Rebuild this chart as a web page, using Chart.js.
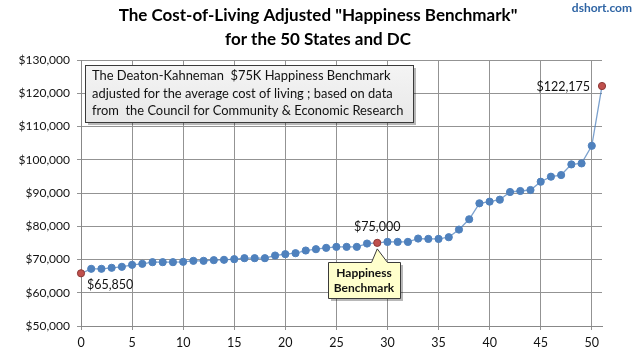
<!DOCTYPE html>
<html><head><meta charset="utf-8">
<script src="https://cdn.jsdelivr.net/npm/chart.js@4"></script>
<style>html,body{margin:0;padding:0;background:#fff}#wrap{width:636px;height:358px;position:relative}</style>
</head><body><div id="wrap"><canvas id="c" width="636" height="358"></canvas></div>
<script>
const titleLines = ['The Cost-of-Living Adjusted "Happiness Benchmark"', 'for the 50 States and DC'];
const sourceText = 'dshort.com';
const noteLines = [
  'The Deaton-Kahneman  $75K Happiness Benchmark',
  'adjusted for the average cost of living ; based on data',
  'from  the Council for Community & Economic Research'
];
const calloutLines = ['Happiness', 'Benchmark'];
const benchmarkValues = [
  65850, 67200, 67200, 67500, 67800, 68400, 68700, 69200, 69200, 69200,
  69300, 69600, 69600, 69800, 69900, 70100, 70400, 70400, 70400, 71200,
  71600, 71900, 72700, 73100, 73500, 73800, 73800, 73800, 74800, 75000,
  75300, 75300, 75300, 76300, 76200, 76200, 76700, 79000, 82100, 86900,
  87400, 88000, 90300, 90600, 90900, 93400, 94900, 95400, 98600, 98900,
  104200, 122175
];
const highlightIdx = [0, 29, 51];
const pointLabels = { 0: '$65,850', 29: '$75,000', 51: '$122,175' };
const xAxis = { min: 0, max: 51, step: 5 };
const yAxis = { min: 50000, max: 130000, step: 10000 };

const FONT = 'Lato, "Liberation Sans", sans-serif';
const BLUE = '#4f81bd', RED = '#c0504d', RED_EDGE = '#8c3836';
const pts = benchmarkValues.map((v, i) => ({ x: i, y: v }));
const fill = benchmarkValues.map((v, i) => highlightIdx.includes(i) ? RED : BLUE);
const edge = benchmarkValues.map((v, i) => highlightIdx.includes(i) ? RED_EDGE : BLUE);

function shadowBox(ctx, x, y, w, h, fillStyle) {
  ctx.save();
  ctx.fillStyle = 'rgba(0,0,0,0.28)';
  ctx.fillRect(x + 3, y + 3, w, h);
  ctx.fillStyle = fillStyle;
  ctx.fillRect(x, y, w, h);
  ctx.strokeStyle = '#3a3a3a';
  ctx.lineWidth = 1;
  ctx.strokeRect(x + 0.5, y + 0.5, w, h);
  ctx.restore();
}

const decor = {
  id: 'decor',
  afterDraw(chart) {
    const ctx = chart.ctx;
    ctx.save();
    // title
    ctx.fillStyle = '#000';
    ctx.textAlign = 'center';
    ctx.textBaseline = 'middle';
    ctx.font = 'bold 17px ' + FONT;
    ctx.fillText(titleLines[0], 318, 16);
    ctx.fillText(titleLines[1], 318, 40);
    // source
    ctx.fillStyle = '#2e64a4';
    ctx.font = 'bold 12px ' + FONT;
    ctx.textAlign = 'right';
    ctx.fillText(sourceText, 632, 8);

    // note box
    const g = ctx.createLinearGradient(0, 65, 0, 122);
    g.addColorStop(0, '#f4f4f4');
    g.addColorStop(1, '#e8e8e8');
    shadowBox(ctx, 85, 65, 328, 57, g);
    ctx.fillStyle = '#111';
    ctx.font = '12.9px ' + FONT;
    ctx.textAlign = 'left';
    noteLines.forEach((t, i) => ctx.fillText(t, 92, 76 + i * 17.5));

    // callout
    const meta = chart.getDatasetMeta(0);
    const bp = meta.data[29];
    const bx = 328, by = 262, bw = 72, bh = 36;
    ctx.save();
    ctx.fillStyle = 'rgba(0,0,0,0.28)';
    ctx.fillRect(bx + 3, by + 3, bw, bh);
    ctx.beginPath();
    ctx.moveTo(bx + 0.5, by + 0.5);
    ctx.lineTo(371.5, by + 0.5);
    ctx.lineTo(bp.x, bp.y + 6);
    ctx.lineTo(387.5, by + 0.5);
    ctx.lineTo(bx + bw + 0.5, by + 0.5);
    ctx.lineTo(bx + bw + 0.5, by + bh + 0.5);
    ctx.lineTo(bx + 0.5, by + bh + 0.5);
    ctx.closePath();
    ctx.fillStyle = '#ffffcc';
    ctx.fill();
    ctx.strokeStyle = '#3a3a3a';
    ctx.lineWidth = 1;
    ctx.stroke();
    ctx.restore();
    ctx.fillStyle = '#111';
    ctx.font = 'bold 12px ' + FONT;
    ctx.textAlign = 'center';
    ctx.fillText(calloutLines[0], bx + bw / 2, by + 11);
    ctx.fillText(calloutLines[1], bx + bw / 2, by + 26);

    // point labels
    ctx.font = '12.5px ' + FONT;
    ctx.fillStyle = '#111';
    const p0 = meta.data[0], p29 = meta.data[29], p51 = meta.data[51];
    ctx.textAlign = 'left';
    ctx.fillText(pointLabels[0], p0.x + 6, p0.y + 12);
    ctx.textAlign = 'center';
    ctx.fillText(pointLabels[29], p29.x, p29.y - 16);
    ctx.textAlign = 'right';
    ctx.fillText(pointLabels[51], p51.x - 12, p51.y + 1);
    ctx.restore();
  }
};

new Chart(document.getElementById('c'), {
  type: 'line',
  data: {
    datasets: [{
      data: pts,
      borderColor: 'rgba(79,129,189,0.75)',
      borderWidth: 1.3,
      pointBackgroundColor: fill,
      pointBorderColor: edge,
      pointBorderWidth: 1,
      pointRadius: 3.6,
      tension: 0,
      clip: false
    }]
  },
  options: {
    responsive: false,
    animation: false,
    devicePixelRatio: 1,
    layout: { padding: { top: 60, right: 34, left: 0, bottom: 0 } },
    plugins: { legend: { display: false }, tooltip: { enabled: false } },
    scales: {
      x: {
        type: 'linear', min: xAxis.min, max: xAxis.max,
        afterFit: s => { s.height = 32; },
        ticks: { stepSize: xAxis.step, includeBounds: false, color: '#111', padding: 5, font: { family: FONT, size: 12.5 } },
        grid: { color: '#939393', tickLength: 4, lineWidth: 1 },
        border: { color: '#888' }
      },
      y: {
        min: yAxis.min, max: yAxis.max,
        afterFit: s => { s.width = 81; },
        ticks: {
          stepSize: yAxis.step, color: '#111', padding: 7, font: { family: FONT, size: 12 },
          callback: v => '$' + v.toLocaleString('en-US')
        },
        grid: { color: '#939393', tickLength: 4, lineWidth: 1 },
        border: { color: '#888' }
      }
    }
  },
  plugins: [decor]
});
</script></body></html>
